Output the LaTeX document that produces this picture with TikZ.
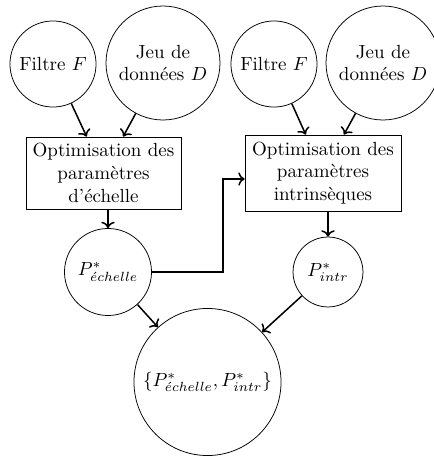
\documentclass[tikz,border=0pt]{standalone}
\usetikzlibrary{arrows.meta}
\begin{document}
\begin{tikzpicture}[x=0.5263pt,y=-0.5263pt,
  circ/.style={draw,circle,align=center,inner sep=2pt},
  boxn/.style={draw,rectangle,align=center,inner sep=3.33pt},
  arr/.style={->,thick}]
\useasboundingbox (0,0) rectangle (433,461);
% top inputs
\node[circ,minimum size=45.3pt] (F1) at (53,64) {Filtre $F$};
\node[circ,minimum size=60pt] (J1) at (163,63) {Jeu de\\données $D$};
\node[circ,minimum size=45.3pt] (F2) at (274,64) {Filtre $F$};
\node[circ,minimum size=60pt] (J2) at (383,63) {Jeu de\\données $D$};
% boxes
\node[boxn,minimum width=81.6pt,minimum height=37.9pt] (B1) at (103.5,173) {Optimisation des\\paramètres\\d'échelle};
\node[boxn,minimum width=82pt,minimum height=40pt] (B2) at (323,173) {Optimisation des\\paramètres\\intrinsèques};
% results
\node[circ,minimum size=45.8pt] (Pe) at (108,272) {$P^*_{\acute{e}chelle}$};
\node[circ,minimum size=36.8pt] (Pi) at (328,272) {$P^*_{intr}$};
\node[circ,minimum size=77.4pt] (R) at (207.5,382) {$\{P^*_{\acute{e}chelle},P^*_{intr}\}$};
\coordinate (K) at (223,179);
% connectors
\draw[arr] (F1) -- (B1);
\draw[arr] (J1) -- (B1);
\draw[arr] (F2) -- (B2);
\draw[arr] (J2) -- (B2);
\draw[arr] (Pe.north |- B1.south) -- (Pe.north);
\draw[arr] (Pi.north |- B2.south) -- (Pi.north);
\draw[arr] (Pe.east) -| (K) -- (K -| B2.west);
\draw[arr] (Pe) -- (R);
\draw[arr] (Pi) -- (R);
\end{tikzpicture}
\end{document}
